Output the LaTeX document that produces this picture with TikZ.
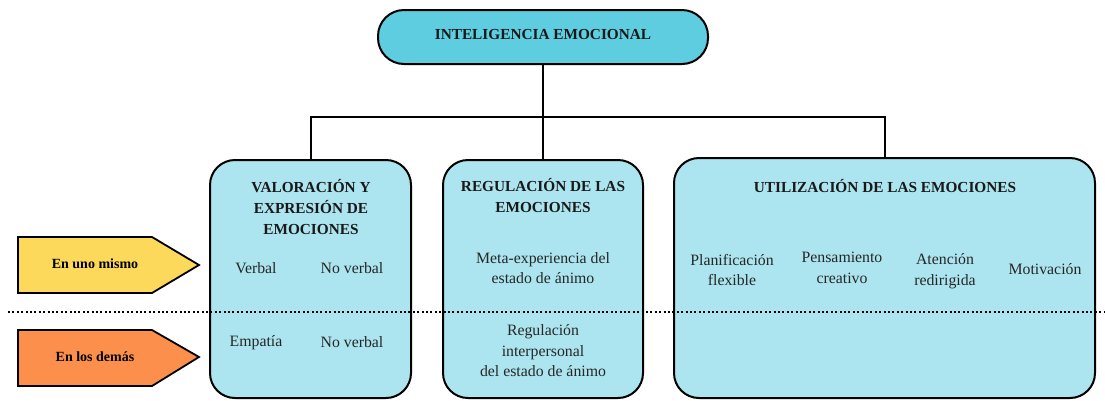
\documentclass[tikz,border=0pt]{standalone}
\usepackage{fontspec}
\setmainfont{Liberation Serif}
\definecolor{topfill}{HTML}{5ECDE0}
\definecolor{boxfill}{HTML}{ACE5EF}
\definecolor{yel}{HTML}{FCD95B}
\definecolor{ora}{HTML}{FC8F4C}
\begin{document}
\begin{tikzpicture}[x=1pt,y=-1pt,
  bigbox/.style={draw=black, line width=2pt, fill=boxfill, rounded corners=25pt, inner sep=0pt},
  topbox/.style={draw=black, line width=2pt, fill=topfill, rounded corners=26pt, inner sep=0pt, minimum width=330pt, minimum height=54pt},
  ttl/.style={font=\fontsize{15.3}{21}\selectfont\bfseries, align=center, inner sep=0pt, text=black!90},
  txt/.style={font=\fontsize{15.8}{20.5}\selectfont, align=center, inner sep=0pt, text=black!85},
  lbl/.style={font=\fontsize{14}{18}\selectfont\bfseries, inner sep=0pt},
  conn/.style={draw=black, line width=2pt},
  pent/.style={draw=black, line width=1.8pt}]
\useasboundingbox (0,0) rectangle (1105,400);

% top
\node[topbox] (top) at (543,37) {};
\node[ttl] (toptxt) at (543,35) {INTELIGENCIA EMOCIONAL};

% boxes
\node[bigbox, minimum width=201pt, minimum height=238pt] (b1) at (310.5,279) {};
\node[bigbox, minimum width=200pt, minimum height=238pt] (b2) at (543,279) {};
\node[bigbox, minimum width=421pt, minimum height=240pt] (b3) at (884.5,278) {};

% connectors
\coordinate (j) at (543,117);
\draw[conn] (top.south) -- (b2.north);
\draw[conn] (b1.north) |- (j) -| (b3.north);

% arrows
\draw[pent, fill=yel] (18,237) -- (152,237) -- (199,265) -- (152,293) -- (18,293) -- cycle;
\node[lbl] (uno) at (95,264) {En uno mismo};
\draw[pent, fill=ora] (18,330) -- (152,330) -- (199,357) -- (152,386) -- (18,386) -- cycle;
\node[lbl] (demas) at (95,357) {En los demás};

% box 1 texts
\node[ttl] (t1) at (311,207) {VALORACIÓN Y\\EXPRESIÓN DE\\EMOCIONES};
\node[txt] (verbal) at (256,268) {Verbal};
\node[txt] (nv1) at (352,268) {No verbal};
\node[txt] (emp) at (256,343) {Empatía};
\node[txt] (nv2) at (352,342) {No verbal};

% box 2 texts
\node[ttl] (t2) at (543,196) {REGULACIÓN DE LAS\\EMOCIONES};
\node[txt] (meta) at (543,268) {Meta-experiencia del\\estado de ánimo};
\node[txt] (reg) at (543,351) {Regulación\\interpersonal\\del estado de ánimo};

% box 3 texts
\node[ttl] (t3) at (885,186) {UTILIZACIÓN DE LAS EMOCIONES};
\node[txt] (plan) at (732,270) {Planificación\\flexible};
\node[txt] (pens) at (842,268) {Pensamiento\\creativo};
\node[txt] (aten) at (945,271) {Atención\\redirigida};
\node[txt] (moti) at (1045,269) {Motivación};

% dotted separator
\draw[line width=1.8pt, dash pattern=on 2pt off 2.4pt] (8,312) -- (1105,312);
\end{tikzpicture}
\end{document}
